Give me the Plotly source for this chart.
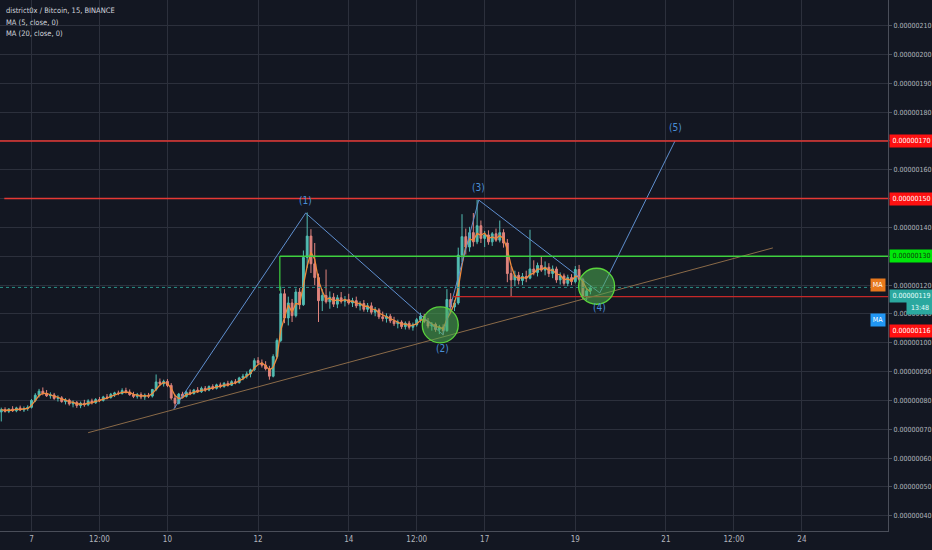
import pandas as pd
import plotly.graph_objects as go

# ---------------- data (prices in units of 1e-8 BTC) ----------------
open_ = [76.0, 76.8, 76.2, 77.0, 76.4, 77.4, 76.7, 77.2,
         77.6, 80.0, 81.8, 83.2, 82.4, 81.6, 81.9, 80.7, 80.9, 79.6, 80.1, 78.8,
         79.3, 78.2, 79.0, 78.5, 79.8, 79.2, 80.3, 80.0, 81.2, 81.0, 82.1, 82.6,
         82.4, 83.4, 82.9, 82.0, 81.4, 82.0, 81.2, 81.8, 81.5, 83.8, 86.4, 85.8,
         86.6, 85.2, 80.8, 79.0, 82.2, 81.4, 82.8, 82.4, 83.6, 83.0, 84.2, 83.6,
         84.8, 84.2, 85.4, 84.8, 85.9, 85.3, 86.5, 86.2, 87.8, 88.4, 89.2, 90.6,
         93.8, 93.0, 92.2, 91.0, 88.4, 95.2, 100.8, 117.0, 108.6, 113.8, 109.4, 117.6,
         113.2, 129.6, 137.0, 127.4, 122.6, 114.6, 116.4, 114.2, 115.8, 113.4, 115.6, 114.4,
         115.0, 113.8, 114.6, 112.8, 113.6, 111.6, 112.8, 110.6, 111.4, 109.0, 108.4, 109.2,
         107.6, 106.6, 107.2, 105.6, 106.8, 105.4, 106.2, 108.0, 109.2, 107.4, 105.8, 106.4,
         104.6, 105.4, 104.2, 115.0, 112.4, 113.8, 130.4, 136.8, 133.2, 138.2, 135.0, 140.6,
         136.2, 137.4, 135.0, 137.8, 135.6, 138.2, 134.6, 124.0, 121.8, 123.4, 121.6, 123.0,
         122.4, 125.6, 124.4, 126.8, 125.2, 126.2, 124.0, 125.6, 121.8, 123.2, 120.6, 122.6,
         121.2, 125.4, 122.0, 116.2, 118.0]
high = [77.5, 77.6, 77.3, 78.0, 77.8, 78.2, 77.9, 78.3,
        80.5, 82.5, 84.0, 84.5, 83.6, 82.8, 82.6, 81.8, 81.5, 80.8, 80.6, 80.0,
        79.8, 79.6, 80.2, 80.4, 80.6, 80.8, 81.2, 81.6, 82.2, 82.6, 83.0, 83.4,
        84.2, 84.4, 83.8, 83.0, 82.6, 82.8, 82.4, 82.6, 84.0, 89.0, 87.6, 87.2,
        87.4, 86.0, 82.0, 82.6, 83.0, 83.4, 83.8, 84.0, 84.6, 84.8, 85.0, 85.2,
        85.6, 85.8, 86.2, 86.4, 86.8, 87.0, 87.4, 88.2, 89.2, 90.0, 91.0, 94.6,
        95.0, 94.2, 93.6, 92.0, 96.0, 101.5, 119.5, 118.6, 116.0, 115.2, 118.8, 119.0,
        132.0, 145.2, 139.4, 134.6, 124.0, 118.6, 125.4, 117.8, 117.2, 116.6, 117.6, 116.2,
        117.0, 115.6, 116.0, 114.4, 114.8, 113.8, 114.0, 112.4, 112.0, 110.8, 110.2, 110.0,
        109.0, 108.0, 107.8, 107.4, 107.6, 107.0, 108.6, 110.4, 110.0, 108.6, 107.2, 107.0,
        106.2, 106.4, 118.6, 117.2, 114.8, 133.0, 144.6, 139.6, 140.2, 145.0, 149.6, 142.4,
        138.8, 139.0, 138.4, 139.6, 142.4, 139.4, 136.0, 126.4, 125.0, 124.6, 124.2, 125.0,
        139.2, 128.6, 127.8, 130.0, 128.2, 127.6, 126.8, 126.4, 124.4, 124.0, 123.6, 123.8,
        126.6, 127.0, 122.6, 119.0, 119.8]
low = [72.7, 75.8, 75.6, 76.0, 75.9, 76.3, 76.0, 76.4,
       77.2, 79.4, 81.0, 81.8, 81.2, 80.6, 80.2, 79.6, 79.2, 78.6, 78.2, 77.6,
       77.4, 77.3, 77.8, 78.0, 78.6, 78.8, 79.4, 79.6, 80.4, 80.6, 81.2, 81.8,
       82.0, 82.4, 81.6, 80.8, 80.6, 80.4, 80.2, 80.8, 81.0, 83.2, 85.0, 84.8,
       84.6, 80.2, 77.4, 78.6, 80.8, 81.0, 81.8, 82.0, 82.6, 82.6, 83.0, 83.2,
       83.6, 83.8, 84.2, 84.4, 84.8, 85.0, 85.6, 85.8, 87.0, 87.6, 88.0, 90.2,
       92.4, 91.4, 90.4, 87.2, 88.0, 94.6, 100.2, 106.8, 106.0, 107.2, 108.8, 111.6,
       112.8, 126.0, 124.2, 120.0, 107.2, 111.0, 113.6, 111.8, 112.4, 112.0, 113.6, 112.6,
       113.2, 112.4, 112.0, 111.2, 110.8, 110.6, 109.8, 109.2, 108.2, 107.4, 107.0, 106.8,
       105.8, 105.0, 104.8, 104.6, 104.6, 104.2, 105.6, 107.0, 106.8, 105.0, 104.2, 103.8,
       103.0, 102.6, 103.8, 110.6, 111.0, 113.2, 128.0, 130.6, 131.6, 133.4, 134.2, 134.6,
       133.2, 134.0, 133.6, 135.0, 134.8, 133.0, 121.0, 116.2, 119.6, 120.2, 120.0, 121.0,
       122.0, 123.4, 123.0, 124.6, 123.4, 122.8, 122.4, 120.8, 120.2, 119.8, 119.6, 120.0,
       120.6, 121.4, 115.0, 114.8, 116.8]
close = [76.8, 76.2, 77.0, 76.4, 77.4, 76.7, 77.2, 77.6,
         80.0, 81.8, 83.2, 82.4, 81.6, 81.9, 80.7, 80.9, 79.6, 80.1, 78.8, 79.3,
         78.2, 79.0, 78.5, 79.8, 79.2, 80.3, 80.0, 81.2, 81.0, 82.1, 82.6, 82.4,
         83.4, 82.9, 82.0, 81.4, 82.0, 81.2, 81.8, 81.5, 83.8, 86.4, 85.8, 86.6,
         85.2, 80.8, 79.0, 82.2, 81.4, 82.8, 82.4, 83.6, 83.0, 84.2, 83.6, 84.8,
         84.2, 85.4, 84.8, 85.9, 85.3, 86.5, 86.2, 87.8, 88.4, 89.2, 90.6, 93.8,
         93.0, 92.2, 91.0, 88.4, 95.2, 100.8, 117.0, 108.6, 113.8, 109.4, 117.6, 113.2,
         129.6, 137.0, 127.4, 122.6, 114.6, 116.4, 114.2, 115.8, 113.4, 115.6, 114.4, 115.0,
         113.8, 114.6, 112.8, 113.6, 111.6, 112.8, 110.6, 111.4, 109.0, 108.4, 109.2, 107.6,
         106.6, 107.2, 105.6, 106.8, 105.4, 106.2, 108.0, 109.2, 107.4, 105.8, 106.4, 104.6,
         105.4, 104.2, 115.0, 112.4, 113.8, 130.4, 136.8, 133.2, 138.2, 135.0, 140.6, 136.2,
         137.4, 135.0, 137.8, 135.6, 138.2, 134.6, 124.0, 121.8, 123.4, 121.6, 123.0, 122.4,
         125.6, 124.4, 126.8, 125.2, 126.2, 124.0, 125.6, 121.8, 123.2, 120.6, 122.6, 121.2,
         125.4, 122.0, 116.2, 118.0, 119.0]

# y tick values (1e-8 units) and their labels
y_ticks = [40, 50, 60, 70, 80, 90, 100, 110, 120, 130, 140, 150, 160, 170, 180, 190, 200, 210]
y_tick_text = ["0.%08d" % v for v in y_ticks]

# x ticks: day of month (fractional) and labels
x_tick_days = [7, 8.5, 10, 12, 14, 15.5, 17, 19, 21, 22.5, 24]
x_tick_text = ["7", "12:00", "10", "12", "14", "12:00", "17", "19", "21", "12:00", "24"]

# Elliott wave drawing (day, price) and labels
wave_days = [10.14, 13.05, 16.08, 16.87, 19.54, 21.20]
wave_vals = [77.0, 145.0, 102.8, 149.5, 117.3, 170.0]
wave_labels = ["", "(1)", "(2)", "(3)", "(4)", "(5)"]
wave_label_shift = [0, 13, -14, 13, -15, 13]

# horizontal levels
level_red_hi = 170
level_red_mid = 150
level_green = 130
level_red_lo = 116
last_price = 119.2

# trend line (day, price)
trend_days = [8.25, 23.36]
trend_vals = [68.8, 132.9]

# circles (day, price)
circle_days = [16.02, 19.47]
circle_vals = [106.2, 119.6]

# ---------------- figure ----------------
BASE = pd.Timestamp("2020-06-30")


def day(d):
    return BASE + pd.Timedelta(days=d)


times = pd.date_range(day(6 + 8 / 24), periods=len(close), freq="2h")
ma_fast = pd.Series(close).rolling(3, min_periods=1).mean()

BG = "#131722"
GRID = "#2c303c"
TXT = "#b2b5be"
FONT = "Liberation Sans Narrow, DejaVu Sans Condensed, Liberation Sans, Arial"

fig = go.Figure()
fig.add_trace(go.Candlestick(
    x=times, open=open_, high=high, low=low, close=close,
    increasing=dict(line=dict(color="#52bdb3", width=1), fillcolor="#52bdb3"),
    decreasing=dict(line=dict(color="#df837d", width=1), fillcolor="#df837d"),
    whiskerwidth=0, hoverinfo="skip", showlegend=False))
fig.add_trace(go.Scatter(x=times, y=ma_fast, mode="lines",
                         line=dict(color="#f08a3c", width=1.3),
                         hoverinfo="skip", showlegend=False))
# wave lines
fig.add_trace(go.Scatter(x=[day(d) for d in wave_days], y=wave_vals, mode="lines",
                         line=dict(color="#5f8fcf", width=1),
                         hoverinfo="skip", showlegend=False))
# trend line
fig.add_trace(go.Scatter(x=[day(d) for d in trend_days], y=trend_vals, mode="lines",
                         line=dict(color="#8a6a48", width=1),
                         hoverinfo="skip", showlegend=False))

shapes = []
x_right = day(26.2)
shapes.append(dict(type="line", xref="paper", x0=0, x1=1, yref="y", y0=level_red_hi, y1=level_red_hi,
                   line=dict(color="#e53935", width=1.5)))
shapes.append(dict(type="line", xref="x", x0=day(6.4), x1=x_right, yref="y", y0=level_red_mid, y1=level_red_mid,
                   line=dict(color="#e53935", width=1.5)))
shapes.append(dict(type="line", xref="x", x0=day(12.48), x1=x_right, yref="y", y0=level_green, y1=level_green,
                   line=dict(color="#3fd13f", width=1.4)))
shapes.append(dict(type="line", xref="x", x0=day(12.48), x1=day(12.48), yref="y", y0=level_green, y1=118,
                   line=dict(color="#3fd13f", width=1.2)))
shapes.append(dict(type="line", xref="x", x0=day(16.3), x1=x_right, yref="y", y0=level_red_lo, y1=level_red_lo,
                   line=dict(color="#c62828", width=1.4)))
shapes.append(dict(type="line", xref="paper", x0=0, x1=1, yref="y", y0=last_price, y1=last_price,
                   line=dict(color="#2a8f88", width=1, dash="dot")))
for cd, cv in zip(circle_days, circle_vals):
    shapes.append(dict(type="circle", xref="x", yref="y", xsizemode="pixel", ysizemode="pixel",
                       xanchor=day(cd), yanchor=cv, x0=-18, x1=18, y0=-18, y1=18,
                       fillcolor="rgba(76,175,80,0.55)", line=dict(color="#5ad43c", width=1.3)))

ann = []
for d, v, lab, sh in zip(wave_days, wave_vals, wave_labels, wave_label_shift):
    if lab:
        ann.append(dict(x=day(d), y=v, xref="x", yref="y", text=lab, showarrow=False,
                        yshift=sh, font=dict(size=10, color="#4a8fd6", family=FONT)))

legend_lines = ["district0x / Bitcoin, 15, BINANCE", "MA (5, close, 0)", "MA (20, close, 0)"]
for k, s in enumerate(legend_lines):
    ann.append(dict(xref="paper", yref="paper", x=0, y=1, xanchor="left", yanchor="top",
                    xshift=4, yshift=-4 - 11.5 * k, text=s, showarrow=False,
                    font=dict(size=7.5, color="#d1d4dc", family=FONT)))


def tag(val, text, bg, fg, yshift=0, xshift=0, width=41, anchor="left", x=1):
    ann.append(dict(xref="paper", x=x, xanchor=anchor, yref="y", y=val, yanchor="middle",
                    text=text, showarrow=False, bgcolor=bg, width=width, height=10,
                    borderpad=1, xshift=xshift, yshift=yshift, align="center",
                    font=dict(size=7, color=fg, family=FONT)))


tag(level_red_hi, "0.00000170", "#ff1111", "#ffffff", xshift=1)
tag(level_red_mid, "0.00000150", "#ff1111", "#ffffff", xshift=1)
tag(level_green, "0.00000130", "#00e60a", "#0b3d0b", xshift=1)
tag(last_price, "0.00000119", "#2ba89f", "#e8fffd", yshift=-8.5, xshift=1)
tag(last_price, "13:48", "#2ba89f", "#e8fffd", yshift=-20.5, xshift=18, width=24)
tag(level_red_lo, "0.00000116", "#ff1111", "#ffffff", yshift=-34, xshift=1)
tag(120.1, "MA", "#e8781c", "#ffffff", xshift=-2, width=12, anchor="right")
tag(108.0, "MA", "#2196f3", "#ffffff", xshift=-2, width=12, anchor="right")

fig.update_layout(
    width=932, height=550,
    margin=dict(l=0, r=44, t=0, b=19, autoexpand=False),
    paper_bgcolor=BG, plot_bgcolor=BG,
    shapes=shapes, annotations=ann,
    showlegend=False, hovermode=False,
    xaxis=dict(type="date", range=[day(6.305), day(25.90)],
               tickvals=[day(d) for d in x_tick_days], ticktext=x_tick_text,
               showgrid=True, gridcolor=GRID, gridwidth=1, zeroline=False,
               rangeslider=dict(visible=False),
               showline=True, linecolor="#4a4e59", linewidth=1, mirror=False,
               ticks="", tickfont=dict(size=8, color=TXT, family=FONT)),
    yaxis=dict(side="right", range=[34.7, 218.9], tickvals=y_ticks, ticktext=y_tick_text,
               showgrid=True, gridcolor=GRID, gridwidth=1, zeroline=False,
               showline=True, linecolor="#4a4e59", linewidth=1,
               ticks="outside", ticklen=3, tickcolor="#4a4e59",
               tickfont=dict(size=7, color=TXT, family=FONT)),
)

fig.write_html("out.html", config={"displayModeBar": False},
               post_script="document.body.style.margin='0';document.body.style.overflow='hidden';")
